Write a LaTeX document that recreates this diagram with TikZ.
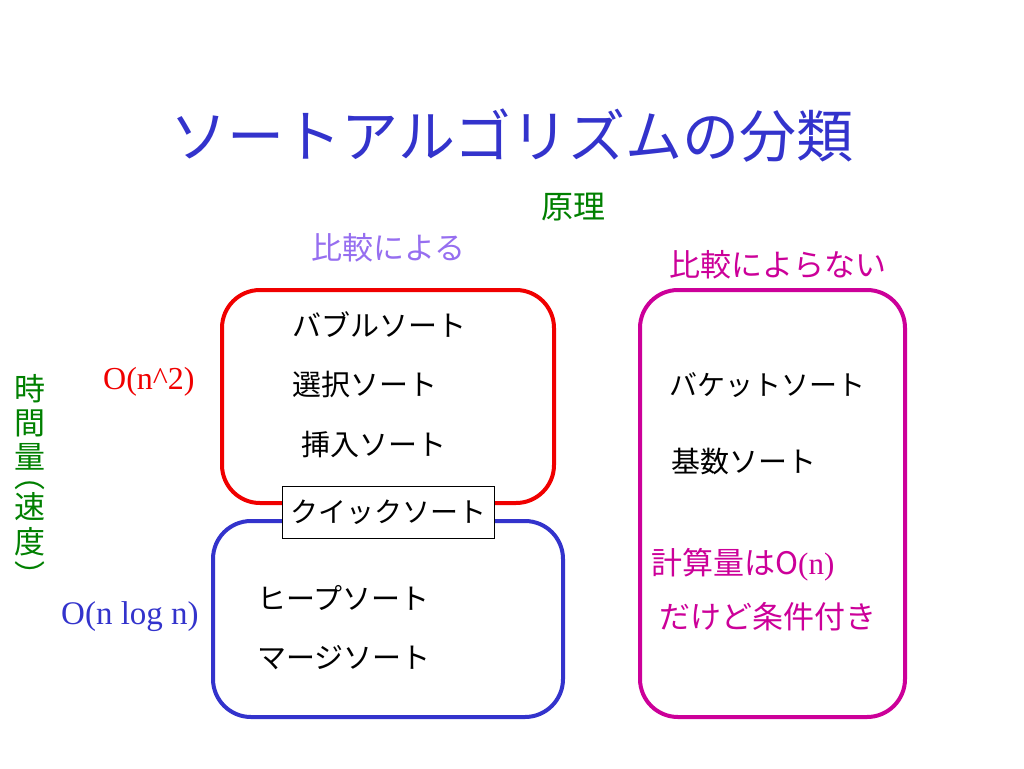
\documentclass[tikz,border=0pt]{standalone}
\usepackage{fontspec}
\setmainfont{Liberation Serif}
\newfontfamily\jp{Noto Sans CJK JP}
\definecolor{ttlblue}{RGB}{51,51,204}
\definecolor{lav}{RGB}{150,110,240}
\definecolor{mag}{RGB}{204,0,153}
\definecolor{grn}{RGB}{0,128,0}
\definecolor{redb}{RGB}{240,0,0}
\tikzset{
  lbl/.style={inner sep=0pt, anchor=west},
  jtxt/.style={lbl, font=\jp\fontsize{29}{32}\selectfont},
  grp/.style={line width=4pt, rounded corners=38pt},
  vt/.style={inner sep=0pt, text=grn, font=\jp\fontsize{31}{34}\selectfont},
  vk/.style={vt, text height=27pt, text depth=4pt}
}
\begin{document}
\begin{tikzpicture}[x=1pt,y=-1pt]
\useasboundingbox[fill=white] (0,0) rectangle (1024,768);
% title
\node[inner sep=0pt, text=ttlblue, font=\jp\fontsize{57}{60}\selectfont] (title) at (512,136) {ソートアルゴリズムの分類};
\node[inner sep=0pt, text=grn, font=\jp\fontsize{32}{34}\selectfont] (genri) at (573,207) {原理};
\node[lbl, text=lav, font=\jp\fontsize{31}{34}\selectfont] (cmp) at (311,248) {比較による};
\node[lbl, text=mag, font=\jp\fontsize{31}{34}\selectfont] (ncmp) at (669,265) {比較によらない};
% boxes
\draw[grp, draw=redb] (222,290) rectangle (554,503);
\draw[grp, draw=ttlblue] (213,521) rectangle (563,717);
\draw[grp, draw=mag] (640,290) rectangle (905,717);
\node[draw=black, fill=white, line width=1pt, minimum width=212pt, minimum height=52pt, inner sep=0pt, font=\jp\fontsize{28}{30}\selectfont] (quick) at (388,512) {クイックソート};
% comparison sorts
\node[jtxt] (bubble) at (292,325) {バブルソート};
\node[jtxt] (select) at (292,385) {選択ソート};
\node[jtxt] (insert) at (301,444) {挿入ソート};
\node[jtxt] (heap) at (257,598) {ヒープソート};
\node[jtxt] (merge) at (257,658) {マージソート};
% non-comparison
\node[jtxt, font=\jp\fontsize{28}{30}\selectfont] (bucket) at (669,385) {バケットソート};
\node[jtxt] (radix) at (671,462) {基数ソート};
\node[lbl, text=mag, font=\jp\fontsize{31}{34}\selectfont] (cost) at (651,565) {計算量はO\fontspec{Liberation Serif}(n)};
\node[lbl, text=mag, font=\jp\fontsize{31}{34}\selectfont] (cond) at (659,617) {だけど条件付き};
% complexity labels
\node[lbl, text=redb, font=\fontsize{32}{34}\selectfont] (on2) at (103,382) {O(n\^{}2)};
\node[lbl, text=ttlblue, font=\fontsize{33}{35}\selectfont] (onlogn) at (61,617) {O(n log n)};
% vertical label
\node[vk] (v1) at (30,389) {時};
\node[vk] (v2) at (30,423) {間};
\node[vk] (v3) at (30,457) {量};
\node[vt] (v4) at (30,486) {︵};
\node[vk] (v5) at (30,507) {速};
\node[vk] (v6) at (30,542) {度};
\node[vt] (v7) at (30,575) {︶};
\end{tikzpicture}
\end{document}
